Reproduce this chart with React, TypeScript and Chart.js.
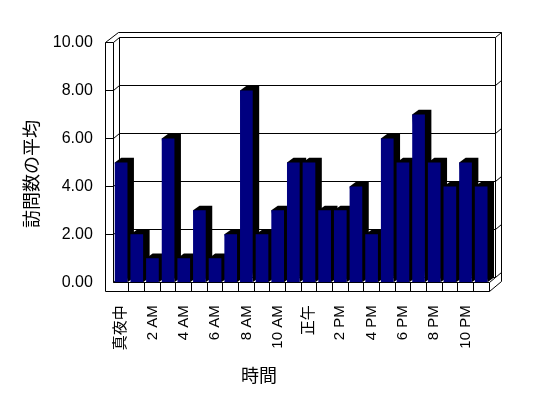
import React, { useEffect, useRef } from 'react';
import { Chart, registerables } from 'chart.js';

Chart.register(...registerables);

// ---- data ----
const hourLabels = [
  '真夜中', '1 AM', '2 AM', '3 AM', '4 AM', '5 AM', '6 AM', '7 AM', '8 AM', '9 AM', '10 AM', '11 AM',
  '正午', '1 PM', '2 PM', '3 PM', '4 PM', '5 PM', '6 PM', '7 PM', '8 PM', '9 PM', '10 PM', '11 PM',
];
const avgVisits = [5, 2, 1, 6, 1, 3, 1, 2, 8, 2, 3, 5, 5, 3, 3, 4, 2, 6, 5, 7, 5, 4, 5, 4];
const yMin = 0;
const yMax = 10;
const yStep = 2;
const yTitle = '訪問数の平均';
const xTitle = '時間';

// ---- 3D look ----
const D1 = { x: 6.5, y: -4.7 }; // front plane -> back wall surface
const D2 = { x: 6, y: -5.5 }; // wall thickness
const WALL = 7.6;
const FLOOR = 9.4;
const BAR_COLOR = '#000080';

const px = (v: number) => Math.floor(v) + 0.5;

const box3d = {
  id: 'box3d',
  beforeDatasetsDraw(chart: any) {
    const { ctx, chartArea: a, scales } = chart;
    const ys = scales.y;
    const xs = scales.x;
    const L = a.left, R = a.right, T = a.top, B = a.bottom;
    const Dx = D1.x + D2.x, Dy = D1.y + D2.y;
    ctx.save();
    ctx.strokeStyle = '#000';
    ctx.lineWidth = 1;
    const line = (pts: number[][]) => {
      ctx.beginPath();
      ctx.moveTo(px(pts[0][0]), px(pts[0][1]));
      for (let i = 1; i < pts.length; i++) ctx.lineTo(px(pts[i][0]), px(pts[i][1]));
      ctx.stroke();
    };
    // gridlines on walls
    for (let v = yMin; v <= yMax; v += yStep) {
      const yf = ys.getPixelForValue(v);
      if (v !== yMin) line([[L - WALL, yf], [L, yf]]);
      line([[L, yf], [L + D1.x, yf + D1.y], [R + D1.x, yf + D1.y], [R + Dx, yf + Dy]]);
    }
    // left wall
    line([[L - WALL, T], [L - WALL, B + FLOOR]]);
    line([[L, T], [L, B]]);
    line([[L + D1.x, T + D1.y], [L + D1.x, B + D1.y]]);
    // top outer
    line([[L - WALL, T], [L - WALL + Dx, T + Dy], [R + Dx, T + Dy]]);
    // right side
    line([[R + D1.x, T + D1.y], [R + D1.x, B + D1.y]]);
    line([[R + Dx, T + Dy], [R + Dx, B + FLOOR + Dy]]);
    line([[R, B + FLOOR], [R + Dx, B + FLOOR + Dy]]);
    line([[R, B], [R + D1.x, B + D1.y]]);
    // floor front
    line([[L, B], [R, B]]);
    line([[L - WALL, B + FLOOR], [R, B + FLOOR]]);
    line([[R, B], [R, B + FLOOR]]);
    const n = hourLabels.length;
    for (let k = 1; k < n; k++) {
      const xb = (xs.getPixelForTick(k - 1) + xs.getPixelForTick(k)) / 2;
      line([[xb, B], [xb, B + FLOOR]]);
    }
    // bar top + side faces
    const meta = chart.getDatasetMeta(0);
    ctx.fillStyle = '#000';
    meta.data.forEach((el: any) => {
      const { x, y, base, width } = el.getProps(['x', 'y', 'base', 'width'], true);
      const x0 = x - width / 2, x1 = x + width / 2;
      ctx.beginPath();
      ctx.moveTo(x0, y);
      ctx.lineTo(x0 + D1.x, y + D1.y);
      ctx.lineTo(x1 + D1.x, y + D1.y);
      ctx.lineTo(x1 + D1.x, base + D1.y);
      ctx.lineTo(x1, base);
      ctx.closePath();
      ctx.fill();
    });
    ctx.restore();
  },
  afterDraw(chart: any) {
    const { ctx } = chart;
    ctx.save();
    ctx.fillStyle = '#000';
    ctx.font = '18px "Noto Sans CJK JP", "Liberation Sans", sans-serif';
    ctx.textAlign = 'center';
    ctx.textBaseline = 'middle';
    ctx.fillText(xTitle, 259, 375);
    ctx.translate(31, 174);
    ctx.rotate(-Math.PI / 2);
    ctx.fillText(yTitle, 0, 0);
    ctx.restore();
  },
};

export default function App() {
  const ref = useRef<HTMLCanvasElement>(null);
  useEffect(() => {
    document.body.style.margin = '0';
    Chart.defaults.color = '#000';
    const chart = new Chart(ref.current as HTMLCanvasElement, {
      type: 'bar',
      data: {
        labels: hourLabels,
        datasets: [
          {
            data: avgVisits,
            backgroundColor: BAR_COLOR,
            borderWidth: 0,
            barPercentage: 0.81,
            categoryPercentage: 1,
          },
        ],
      },
      options: {
        responsive: false,
        animation: false,
        layout: { padding: { left: 8, right: 59, top: 42.5, bottom: 0 } },
        plugins: { legend: { display: false }, tooltip: { enabled: false } },
        scales: {
          x: {
            grid: { display: false, drawTicks: false },
            border: { display: false },
            afterFit: (s: any) => {
              s.height = 398 - 282.3;
            },
            ticks: {
              autoSkip: false,
              minRotation: 90,
              maxRotation: 90,
              padding: 23,
              color: '#000',
              font: { family: '"Liberation Sans", "Noto Sans CJK JP", sans-serif', size: 15 },
              callback: (_v: any, i: number) => (i % 2 === 0 ? hourLabels[i] : ''),
            },
          },
          y: {
            min: yMin,
            max: yMax,
            grid: { display: false, drawTicks: false },
            border: { display: false },
            afterFit: (s: any) => {
              s.width = 113.3 - 8;
            },
            ticks: {
              stepSize: yStep,
              padding: 20.5,
              color: '#000',
              font: { family: '"Liberation Sans", sans-serif', size: 16 },
              callback: (v: any) => Number(v).toFixed(2),
            },
          },
        },
      },
      plugins: [box3d],
    });
    return () => chart.destroy();
  }, []);
  return (
    <div style={{ width: 548, height: 398 }}>
      <canvas ref={ref} width={548} height={398} style={{ display: 'block' }} />
    </div>
  );
}
